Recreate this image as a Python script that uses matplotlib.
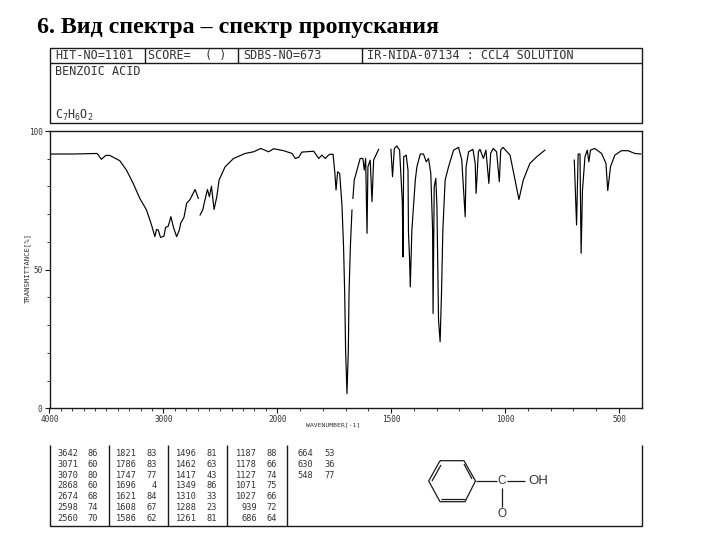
import numpy as np
import matplotlib
matplotlib.use('Agg')
import matplotlib.pyplot as plt
from matplotlib.ticker import FixedLocator

# spectrum, one pair of lists per unbroken piece of the trace
wave_1 = [4000, 3794, 3583, 3544, 3506, 3471, 3383, 3324, 3265, 3207, 3148, 3104, 3075, 3060, 3045, 3025,
          2995, 2981, 2957, 2934, 2913, 2884, 2860, 2848, 2819, 2796, 2766, 2722, 2693]
trans_1 = [91.7, 91.7, 91.9, 89.8, 91.2, 91.2, 89.3, 85.9, 81.1, 75.7, 71.5, 66.1, 61.9, 64.5, 64.3, 61.6,
           62.1, 65.2, 65.7, 69.1, 65.5, 61.9, 64.3, 66.7, 68.9, 73.9, 75.3, 78.9, 75.7]
wave_2 = [2678, 2655, 2625, 2613, 2596, 2578, 2555, 2531, 2511, 2458, 2384, 2282, 2208, 2144, 2076, 2032,
          1972, 1935, 1921, 1906, 1892, 1840, 1818, 1804, 1789, 1775, 1770, 1755, 1747, 1742, 1735, 1726,
          1716, 1709, 1704, 1700, 1694, 1688, 1685, 1679, 1672]
trans_2 = [69.7, 71.5, 76.9, 78.9, 76.3, 80.1, 71.7, 76.3, 82.3, 87.1, 90.1, 91.9, 92.5, 93.7, 92.5, 93.6,
           92.9, 91.9, 90.1, 90.5, 92.4, 92.7, 90.1, 91.3, 90.1, 91.3, 91.6, 91.6, 84.7, 78.7, 85.3, 84.7,
           73.3, 58.3, 41.5, 21.0, 5.3, 21.0, 41.5, 58.3, 71.5]
wave_3 = [1668, 1662, 1650, 1636, 1624, 1618, 1612, 1606, 1602, 1592, 1584, 1577, 1555]
trans_3 = [75.7, 82.3, 85.9, 90.1, 90.1, 85.9, 90.1, 63.1, 87.1, 89.5, 74.5, 89.5, 93.4]
wave_4 = [1501, 1494, 1486, 1475, 1463, 1451, 1448, 1445, 1434, 1426, 1424, 1419, 1416, 1409, 1394, 1387,
          1372, 1358, 1346, 1336, 1326, 1318, 1316, 1311, 1304, 1299, 1292, 1285, 1279, 1273, 1263, 1248,
          1226, 1204, 1190, 1175, 1171, 1160, 1141, 1131, 1127, 1117, 1110, 1095, 1084, 1071, 1063, 1052,
          1037, 1025, 1019, 1009, 978, 956, 939, 920, 891, 861, 825]
trans_4 = [93.4, 83.5, 93.7, 94.6, 93.1, 74.5, 54.6, 90.7, 91.3, 85.9, 63.7, 53.4, 43.8, 64.3, 82.3, 87.1,
           91.7, 91.7, 88.9, 90.1, 84.7, 64.3, 34.2, 79.9, 82.9, 72.7, 31.8, 24.0, 41.5, 64.3, 82.3, 87.1,
           93.1, 94.1, 89.5, 69.1, 87.1, 92.5, 93.4, 88.3, 77.5, 92.5, 93.4, 90.1, 93.1, 81.1, 92.0, 93.7,
           92.5, 81.7, 93.1, 94.1, 91.3, 82.3, 75.3, 82.3, 88.3, 90.7, 93.1]
wave_5 = [696, 686, 679, 671, 666, 660, 649, 639, 632, 625, 606, 576, 557, 549, 537, 518, 489, 460, 430, 404]
trans_5 = [89.5, 66.1, 91.7, 91.7, 55.9, 78.7, 90.7, 93.1, 88.9, 93.1, 93.7, 91.9, 88.3, 78.5, 87.1, 91.3,
           92.9, 92.9, 91.9, 91.7]

# peak table
peak_wave_1 = ['3642', '3071', '3070', '2868', '2674', '2598', '2560']
peak_val_1 = ['86', '60', '80', '60', '68', '74', '70']
peak_wave_2 = ['1821', '1786', '1747', '1696', '1621', '1608', '1586']
peak_val_2 = ['83', '83', '77', '4', '84', '67', '62']
peak_wave_3 = ['1496', '1462', '1417', '1349', '1310', '1288', '1261']
peak_val_3 = ['81', '63', '43', '86', '33', '23', '81']
peak_wave_4 = ['1187', '1178', '1127', '1071', '1027', '939', '686']
peak_val_4 = ['88', '66', '74', '75', '66', '72', '64']
peak_wave_5 = ['664', '630', '548']
peak_val_5 = ['53', '36', '77']

x_major = [4000, 3000, 2000, 1500, 1000, 500]
x_minor = list(range(4000, 2000, -100)) + list(range(2000, 400, -100))
y_major = [0, 50, 100]
y_minor = [10, 20, 30, 40, 60, 70, 80, 90]

W, H = 720, 540
INK = '#1a1a1a'
TEXT = '#333333'
MONO = 'DejaVu Sans Mono'


def forward(x):
    return np.interp(x, [0, 2000, 4000, 8000], [0, 2000, 3000, 5000])


def inverse(p):
    return np.interp(p, [0, 2000, 3000, 5000], [0, 2000, 4000, 8000])


fig = plt.figure(figsize=(W / 100, H / 100), dpi=100)

# overlay in pixel coordinates for the header, table and structure
page = fig.add_axes([0, 0, 1, 1])
page.set_xlim(0, W)
page.set_ylim(H, 0)
page.axis('off')


def line(xs, ys, lw=1.0):
    page.plot(xs, ys, color=INK, lw=lw, solid_capstyle='butt')


page.text(37, 33, '6. Вид спектра – спектр пропускания', family='Liberation Serif', weight='bold',
          fontsize=17.2, color='black', ha='left', va='baseline')

# header box
L, R = 49.5, 641.7
line([L, R, R, L, L], [48.3, 48.3, 123.3, 123.3, 48.3])
line([L, R], [63.3, 63.3])
for x in [145, 238, 361.7]:
    line([x, x], [48.3, 63.3])
for x, s in [(55, 'HIT-NO=1101'), (148, 'SCORE=  ( )'), (243, 'SDBS-NO=673'),
             (367, 'IR-NIDA-07134 : CCL4 SOLUTION')]:
    page.text(x, 59, s, family=MONO, fontsize=8.45, color=TEXT, va='baseline')
page.text(55, 75, 'BENZOIC ACID', family=MONO, fontsize=8.45, color=TEXT, va='baseline')
page.text(55, 119, 'C$\\mathregular{_7}$H$\\mathregular{_6}$O$\\mathregular{_2}$', family=MONO,
          fontsize=8.45, color=TEXT, va='baseline')

# spectrum axes
ax = fig.add_axes([L / W, 1 - 408.3 / H, (R - L) / W, (408.3 - 131) / H])
ax.patch.set_alpha(0)
ax.set_xscale('function', functions=(forward, inverse))
ax.set_xlim(4000, 400)
ax.set_ylim(0, 100)
for w, t in [(wave_1, trans_1), (wave_2, trans_2), (wave_3, trans_3), (wave_4, trans_4), (wave_5, trans_5)]:
    ax.plot(w, t, color='black', lw=0.85)
ax.xaxis.set_major_locator(FixedLocator(x_major))
ax.xaxis.set_minor_locator(FixedLocator(x_minor))
ax.yaxis.set_major_locator(FixedLocator(y_major))
ax.yaxis.set_minor_locator(FixedLocator(y_minor))
ax.set_xticklabels([str(v) for v in x_major], family=MONO, fontsize=5.6, color=TEXT)
ax.set_yticklabels([str(v) for v in y_major], family=MONO, fontsize=5.6, color=TEXT)
ax.xaxis.set_minor_formatter(plt.NullFormatter())
ax.yaxis.set_minor_formatter(plt.NullFormatter())
ax.tick_params(which='major', length=3.5, width=0.8, color=INK, pad=1.5)
ax.tick_params(which='minor', length=2, width=0.6, color=INK)
for s in ax.spines.values():
    s.set_linewidth(1.0)
    s.set_color(INK)

page.text(27, 268, 'TRANSMITTANCE[%]', family=MONO, fontsize=5.2, rotation=90, color=TEXT, ha='center', va='center')
page.text(333, 425, 'WAVENUMBER[-1]', family=MONO, fontsize=4.6, color=TEXT, ha='center', va='center')

# peak table
line([L, L, R, R], [445, 525.7, 525.7, 445])
for x in [109, 168, 227, 287]:
    line([x, x], [445, 525.7])
columns = [(78, 98, peak_wave_1, peak_val_1), (137, 157, peak_wave_2, peak_val_2),
           (197, 217, peak_wave_3, peak_val_3), (257, 277, peak_wave_4, peak_val_4),
           (313, 335, peak_wave_5, peak_val_5)]
for x_w, x_v, waves, vals in columns:
    for i, (a, b) in enumerate(zip(waves, vals)):
        y = 453.5 + i * 10.8
        page.text(x_w, y, a, family=MONO, fontsize=6.2, color=TEXT, ha='right', va='center')
        page.text(x_v, y, b, family=MONO, fontsize=6.2, color=TEXT, ha='right', va='center')

# benzoic acid structure
ring_x = [440, 464, 475.5, 465, 440, 428.7, 440]
ring_y = [460.7, 460.7, 481, 501.7, 501.7, 481, 460.7]
line(ring_x, ring_y, 0.9)
line([464, 472], [464, 479], 0.9)
line([441, 465], [498.5, 498.5], 0.9)
line([432, 441], [481, 465], 0.9)
line([475.5, 497], [481, 481], 0.9)
line([507, 525], [481, 481], 0.9)
line([502, 502], [488, 507], 0.9)
page.text(502, 481, 'C', fontsize=8.5, family='Liberation Sans', color=TEXT, ha='center', va='center')
page.text(538, 481, 'OH', fontsize=9.5, family='Liberation Sans', color=TEXT, ha='center', va='center')
page.text(502.5, 514, 'O', fontsize=8.5, family='Liberation Sans', color=TEXT, ha='center', va='center')

fig.savefig('out.png', dpi=100, facecolor='white')
